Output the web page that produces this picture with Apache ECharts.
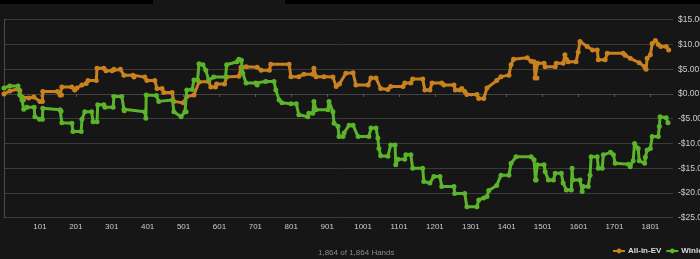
<!DOCTYPE html>
<html>
<head>
<meta charset="utf-8">
<script src="https://cdn.jsdelivr.net/npm/echarts@6/dist/echarts.min.js"></script>
<style>
html,body{margin:0;padding:0;background:#161616;}
#chart{width:700px;height:259px;}
</style>
</head>
<body>
<div id="chart"></div>
<script>
// Series names
const seriesNames = ['All-in-EV', 'Winloss'];
// [hand number, dollars]
const evData = [[1,0.0],[17,0.6],[40,1.0],[45,0.7],[51,-0.6],[70,-0.8],[84,-0.6],[101,-1.5],[108,-1.5],[109,0.5],[150,0.5],[157,-0.2],[161,-0.2],[162,1.4],[190,1.4],[198,0.8],[204,1.2],[218,1.8],[230,2.1],[235,2.7],[258,2.7],[260,5.2],[279,5.2],[285,4.7],[302,4.7],[307,5.0],[325,5.0],[335,3.8],[360,3.8],[363,3.4],[393,3.4],[399,2.7],[421,2.7],[427,1.1],[441,1.1],[446,0.3],[469,0.3],[474,-1.5],[500,-1.8],[510,-0.5],[530,-0.2],[544,2.4],[571,2.5],[577,1.4],[590,1.4],[593,2.0],[615,2.0],[621,3.4],[655,3.6],[661,5.4],[675,5.5],[706,5.4],[717,4.8],[740,4.8],[744,6.0],[795,6.0],[800,3.5],[822,3.5],[836,4.0],[861,4.0],[864,5.2],[870,3.5],[892,3.5],[917,3.4],[926,1.5],[935,2.0],[953,4.2],[973,4.3],[981,1.8],[1015,1.8],[1023,3.2],[1037,3.2],[1050,1.1],[1070,0.9],[1078,1.5],[1112,1.5],[1117,2.2],[1134,2.2],[1139,3.0],[1167,3.0],[1173,0.8],[1187,0.8],[1193,2.2],[1220,2.2],[1226,1.8],[1254,1.8],[1258,0.8],[1270,0.8],[1276,1.1],[1284,0.5],[1290,-0.1],[1318,-0.1],[1323,-0.9],[1337,-0.9],[1346,1.2],[1373,2.7],[1385,3.5],[1407,3.8],[1413,5.9],[1420,7.0],[1458,7.3],[1469,6.6],[1477,6.5],[1480,3.2],[1485,3.2],[1487,6.2],[1505,6.2],[1508,5.5],[1536,5.5],[1539,6.2],[1558,6.2],[1563,7.9],[1567,7.0],[1572,6.5],[1594,6.5],[1600,8.5],[1605,10.6],[1625,9.6],[1640,8.9],[1653,8.9],[1656,6.9],[1675,6.9],[1681,8.2],[1725,8.2],[1731,7.8],[1745,7.2],[1770,6.3],[1785,5.5],[1789,5.0],[1792,7.2],[1801,7.9],[1806,10.2],[1815,10.8],[1823,10.0],[1830,9.6],[1845,9.6],[1852,8.9]];
const wlData = [[1,1.2],[17,1.6],[40,1.6],[45,-0.2],[51,-1.2],[55,-1.2],[56,-3.1],[65,-2.7],[85,-2.7],[87,-4.6],[100,-5.1],[108,-5.1],[109,-2.9],[157,-3.2],[160,-3.5],[162,-5.8],[190,-5.9],[193,-7.6],[216,-7.6],[218,-5.1],[226,-3.6],[245,-3.6],[249,-5.6],[260,-5.6],[262,-2.2],[279,-2.2],[282,-2.7],[305,-2.7],[307,-0.5],[329,-0.5],[335,-3.1],[336,-3.4],[393,-3.6],[396,-4.9],[397,-0.2],[425,-0.3],[432,-1.5],[470,-1.2],[474,-3.6],[494,-4.6],[505,-3.6],[508,-3.6],[510,0.8],[525,0.9],[530,2.8],[540,2.8],[544,6.1],[555,5.9],[563,4.8],[571,2.8],[585,3.4],[618,3.4],[621,5.9],[650,6.5],[655,7.0],[662,6.8],[666,4.2],[675,2.2],[702,2.2],[706,1.8],[730,2.5],[753,2.5],[758,0.8],[767,-1.2],[775,-1.8],[800,-2.0],[815,-2.0],[822,-4.2],[847,-4.6],[850,-3.9],[861,-3.9],[864,-1.5],[870,-3.2],[903,-3.2],[906,-1.5],[917,-3.6],[920,-5.9],[931,-6.5],[934,-8.6],[945,-8.6],[948,-7.9],[962,-6.3],[973,-6.3],[987,-8.6],[1017,-8.6],[1023,-6.9],[1037,-6.9],[1042,-8.9],[1045,-11.0],[1050,-12.5],[1070,-12.6],[1078,-10.3],[1090,-10.3],[1092,-14.3],[1098,-13.2],[1117,-13.2],[1120,-12.3],[1134,-12.3],[1139,-15.0],[1167,-15.0],[1170,-17.7],[1187,-18.0],[1198,-16.7],[1215,-16.7],[1220,-18.7],[1254,-18.7],[1256,-20.1],[1284,-20.1],[1290,-22.8],[1318,-22.8],[1323,-21.4],[1337,-21.0],[1346,-20.7],[1351,-19.5],[1373,-18.5],[1385,-16.4],[1407,-16.4],[1413,-14.0],[1427,-12.7],[1469,-12.7],[1477,-13.3],[1481,-17.4],[1483,-17.4],[1486,-14.3],[1505,-14.3],[1508,-15.7],[1517,-17.4],[1531,-17.4],[1536,-16.0],[1553,-16.0],[1558,-18.0],[1567,-19.4],[1581,-19.4],[1583,-15.0],[1585,-17.4],[1605,-17.4],[1611,-19.7],[1614,-18.7],[1628,-18.7],[1633,-16.4],[1636,-12.7],[1653,-12.7],[1656,-15.0],[1667,-15.0],[1670,-12.3],[1690,-11.8],[1698,-12.3],[1703,-14.0],[1740,-14.2],[1745,-14.7],[1753,-13.5],[1757,-10.0],[1767,-11.0],[1770,-13.5],[1785,-14.0],[1787,-12.8],[1792,-11.3],[1801,-11.0],[1806,-8.6],[1823,-8.6],[1826,-6.5],[1828,-4.6],[1845,-4.8],[1850,-5.8]];
const totalHands = 1864;
const yTicks = { min: -25, max: 15, step: 5 };
const footerText = '1,864 of 1,864 Hands';

const FONT = 'Liberation Sans, Arial, sans-serif';
const chart = echarts.init(document.getElementById('chart'), null, {renderer: 'canvas'});
// x axis is hand index starting at 0 (hand - 1) so ticks land on 1, 101, 201 ...
const toSeries = arr => arr.map(p => [p[0] - 1, p[1]]);
const fmtMoney = v => (v < 0 ? '-$' : '$') + Math.abs(v).toFixed(2);

chart.setOption({
  backgroundColor: '#161616',
  animation: false,
  grid: { left: 4, right: 27, top: 19.7, bottom: 41.3, containLabel: false, outerBoundsMode: 'none' },
  legend: {
    data: seriesNames,
    left: 607, top: 242, width: 400,
    itemWidth: 12, itemHeight: 6, itemGap: 4,
    textStyle: { color: '#dddddd', fontSize: 8, fontWeight: 'bold', fontFamily: FONT, padding: [0,0,0,-2] }
  },
  xAxis: {
    type: 'value', min: 0, max: totalHands - 1, interval: 100,
    axisLine: { show: true, lineStyle: { color: '#444444', width: 1 } },
    axisTick: { show: true, length: 3, lineStyle: { color: '#555555' } },
    splitLine: { show: false },
    axisLabel: {
      color: '#cccccc', fontSize: 8, fontFamily: FONT, margin: 5,
      showMaxLabel: false,
      formatter: v => v === 0 ? '' : String(v + 1)
    }
  },
  yAxis: {
    type: 'value', position: 'right',
    min: yTicks.min, max: yTicks.max, interval: yTicks.step,
    axisLine: { show: true, lineStyle: { color: '#4a4a4a', width: 1 } },
    axisTick: { show: true, length: 2, lineStyle: { color: '#4a4a4a' } },
    splitLine: { show: true, lineStyle: { color: '#3a3a3a', width: 1 } },
    axisLabel: { color: '#cccccc', fontSize: 8.5, fontFamily: FONT, margin: 5, formatter: fmtMoney }
  },
  series: [
    {
      name: seriesNames[0], type: 'line', data: toSeries(evData),
      color: '#c9821f',
      lineStyle: { width: 3, color: '#c9821f' },
      symbol: 'circle', symbolSize: 5, showSymbol: true,
      itemStyle: { color: '#c9821f' }, z: 2
    },
    {
      name: seriesNames[1], type: 'line', data: toSeries(wlData),
      color: '#5bb42a',
      lineStyle: { width: 3, color: '#5bb42a' },
      symbol: 'circle', symbolSize: 5, showSymbol: true,
      itemStyle: { color: '#5bb42a' }, z: 3
    }
  ],
  graphic: [
    { type: 'rect', left: 0, top: 0, shape: { width: 153, height: 4 }, style: { fill: '#000000' } },
    { type: 'rect', left: 285, top: 0, shape: { width: 415, height: 4 }, style: { fill: '#000000' } },
    { type: 'text', left: 318, top: 249, style: { text: footerText, fill: '#8a8a8a', font: '8px ' + FONT } }
  ]
});
</script>
</body>
</html>
